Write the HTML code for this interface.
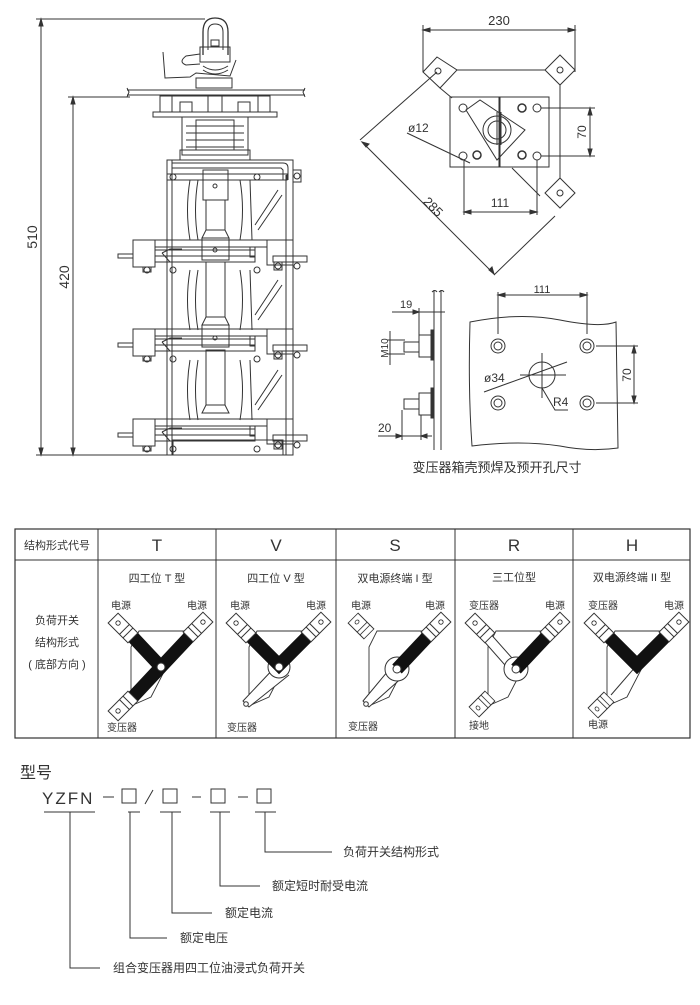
<!DOCTYPE html>
<html><head><meta charset="utf-8">
<style>
html,body{margin:0;padding:0;background:#fff;}
svg{display:block;}
text{font-family:"Liberation Sans","Noto Sans CJK SC",sans-serif;fill:#333;}
</style></head>
<body>
<svg width="700" height="1005" viewBox="0 0 700 1005" xmlns="http://www.w3.org/2000/svg">
<defs>
<g id="term">
  <rect x="-7" y="-14" width="14" height="28" fill="#fff" stroke="#333" stroke-width="1"/>
  <circle cx="0" cy="-7" r="2.2" fill="#fff" stroke="#333" stroke-width="0.9"/>
  <line x1="-7" y1="2" x2="7" y2="2" stroke="#333" stroke-width="1"/>
  <line x1="-7" y1="7" x2="7" y2="7" stroke="#333" stroke-width="1"/>
</g>
<g id="frame">
  <path d="M-22,-36 L24,-36 L-10,30 L-28,38 L-30,36 L-30,-20 Z" fill="none" stroke="#333" stroke-width="0.9"/>
</g>
</defs>
<g stroke="#333" fill="none" stroke-width="1">
<!-- ========== LEFT DEVICE ========== -->
<line x1="41" y1="19" x2="41" y2="455"/>
<line x1="36" y1="19" x2="205" y2="19"/>
<line x1="73" y1="97" x2="73" y2="455"/>
<line x1="68" y1="97" x2="130" y2="97"/>
<line x1="36" y1="455" x2="170" y2="455"/>
<path d="M41,19 l-2,7 h4z M41,455 l-2,-7 h4z M73,97 l-2,7 h4z M73,455 l-2,-7 h4z" fill="#333"/>
<path d="M203,55 L203,32 Q203,18 215,18 Q228,18 228,32 L228,55" stroke-width="1.3"/>
<path d="M208,50 L208,32 Q208,24 215,24 Q223,24 223,32 L223,50"/>
<rect x="200" y="47" width="30" height="15"/>
<rect x="211" y="40" width="8" height="6"/>
<path d="M200,54 L186,56 Q178,62 186,65 L200,64"/>
<path d="M163,52 L165,78 L190,77 L196,73 L230,76 L236,60"/>
<rect x="196" y="78" width="36" height="10"/>
<path d="M203,66 Q215,74 228,66 M203,70 Q215,78 228,70"/>
<line x1="127" y1="90" x2="305" y2="90"/>
<line x1="127" y1="95" x2="305" y2="95"/>
<path d="M127,88 l2,4 -2,5 M305,88 l-2,4 2,5"/>
<rect x="160" y="96" width="110" height="16"/>
<rect x="153" y="112" width="124" height="5"/>
<line x1="172" y1="96" x2="172" y2="112"/><line x1="258" y1="96" x2="258" y2="112"/>
<line x1="208" y1="96" x2="208" y2="112"/><line x1="222" y1="96" x2="222" y2="112"/>
<rect x="180" y="102" width="12" height="10"/><rect x="238" y="102" width="12" height="10"/>
<rect x="182" y="117" width="66" height="38"/>
<rect x="196" y="120" width="38" height="30"/>
<line x1="186" y1="126" x2="244" y2="126"/><line x1="186" y1="133" x2="244" y2="133"/>
<line x1="186" y1="140" x2="244" y2="140"/><line x1="186" y1="147" x2="244" y2="147"/>
<rect x="180" y="150" width="70" height="10"/>
<rect x="167" y="160" width="126" height="295"/>
<line x1="172" y1="160" x2="172" y2="455"/>
<line x1="286" y1="175" x2="286" y2="455"/>
<path d="M172,163 L283,163 Q288,163 288,168 L288,180 M172,168 L281,168 L283,170 L283,180"/>
<rect x="167" y="174" width="120" height="6"/>
<rect x="293" y="170" width="8" height="12"/><circle cx="297" cy="176" r="3"/>
<rect x="203" y="170" width="25" height="30"/><circle cx="215" cy="186" r="2"/>
<rect x="206" y="200" width="19" height="30"/>
<path d="M206,230 L202,238 L229,238 L225,230"/>
<rect x="202" y="238" width="27" height="22"/><circle cx="215" cy="250" r="2"/>
<rect x="206" y="262" width="19" height="55"/>
<path d="M206,317 L202,325 L229,325 L225,317"/>
<rect x="202" y="325" width="27" height="22"/><circle cx="215" cy="338" r="2"/>
<rect x="206" y="350" width="19" height="55"/>
<path d="M206,405 L202,413 L229,413 L225,405"/>
<path d="M190,180 Q185,210 190,240 M198,180 Q193,210 198,240 M240,180 Q245,210 240,240 M250,180 L252,240"/>
<path d="M255,225 L278,190 M258,230 L282,195"/>
<path d="M190,270 Q185,300 190,330 M198,270 Q193,300 198,330 M240,270 Q245,300 240,330 M250,270 L252,330"/>
<path d="M255,315 L278,280 M258,320 L282,285"/>
<path d="M190,360 Q185,390 190,420 M198,360 Q193,390 198,420 M240,360 Q245,390 240,420 M250,360 L252,420"/>
<path d="M255,405 L278,370 M258,410 L282,375"/>
<circle cx="173" cy="177" r="3"/><circle cx="257" cy="177" r="3"/>
<g id="tier">
<rect x="133" y="240" width="22" height="27"/>
<rect x="155" y="240" width="112" height="7"/>
<rect x="267" y="240" width="26" height="25"/>
<rect x="155" y="250" width="100" height="6"/>
<rect x="155" y="256" width="100" height="6"/>
<path d="M162,253 L170,249 L182,249 M162,253 L170,262 L182,262"/>
<rect x="118" y="254" width="15" height="4"/>
<rect x="273" y="256" width="34" height="6"/>
<rect x="250" y="247" width="5" height="10"/>
<rect x="143" y="267" width="8" height="5"/><circle cx="147" cy="270" r="3"/>
<circle cx="173" cy="270" r="3"/><circle cx="257" cy="270" r="3"/>
<rect x="274" y="262" width="8" height="8"/><circle cx="278" cy="266" r="3"/>
<circle cx="297" cy="266" r="3"/>
</g>
<use href="#tier" y="89"/>
<use href="#tier" y="179"/>
<rect x="173" y="440" width="110" height="15"/>
<!-- ========== TOP RIGHT PLAN ========== -->
<line x1="423" y1="30" x2="575" y2="30"/>
<path d="M423,30 l7,-2 v4z M575,30 l-7,-2 v4z" fill="#333"/>
<line x1="423" y1="25" x2="423" y2="72"/><line x1="575" y1="25" x2="575" y2="72"/>
<line x1="457" y1="70" x2="545" y2="70"/>
<line x1="560" y1="85" x2="560" y2="178"/>
<path d="M437,57 L457,70 L440,88 L423,72 Z"/><circle cx="438" cy="71" r="3"/>
<path d="M560,55 L575,70 L560,85 L545,70 Z"/><circle cx="560" cy="70" r="3"/>
<path d="M560,178 L575,193 L560,208 L545,193 Z"/><circle cx="560" cy="193" r="3"/>
<line x1="440" y1="88" x2="452" y2="98"/>
<line x1="512" y1="168" x2="540" y2="196"/>
<rect x="450" y="97" width="49" height="70"/>
<rect x="500" y="97" width="49" height="70"/>
<circle cx="463" cy="108" r="4"/><circle cx="537" cy="108" r="4"/>
<circle cx="463" cy="156" r="4"/><circle cx="537" cy="156" r="4"/>
<circle cx="477" cy="155" r="4" stroke-width="1.5"/><circle cx="522" cy="155" r="4" stroke-width="1.5"/>
<circle cx="522" cy="108" r="4" stroke-width="1.5"/>
<path d="M466,110 L480,100 L525,130 L497,160 Z"/>
<circle cx="497" cy="130" r="14"/><circle cx="497" cy="130" r="9"/>
<path d="M497,112 L497,145 M501,112 L501,145"/>
<line x1="360" y1="140" x2="437" y2="72"/>
<line x1="494" y1="275" x2="555" y2="216"/>
<line x1="362" y1="142" x2="494" y2="274"/>
<path d="M362,142 l7,2 -3,3z M494,274 l-2,-7 -3,3z" fill="#333"/>
<line x1="407" y1="133" x2="470" y2="163"/>
<line x1="464" y1="160" x2="464" y2="215"/><line x1="537" y1="160" x2="537" y2="215"/>
<line x1="464" y1="212" x2="537" y2="212"/>
<path d="M464,212 l7,-2 v4z M537,212 l-7,-2 v4z" fill="#333"/>
<line x1="541" y1="108" x2="595" y2="108"/><line x1="541" y1="156" x2="595" y2="156"/>
<line x1="590" y1="108" x2="590" y2="156"/>
<path d="M590,108 l-2,7 h4z M590,156 l-2,-7 h4z" fill="#333"/>
<!-- ========== SIDE VIEW ========== -->
<path d="M434,290 L434,450 M441,290 L441,450"/>
<path d="M432,292 q3,-3 5,0 M439,292 q3,-3 5,0"/>
<line x1="392" y1="312" x2="445" y2="312"/>
<line x1="419" y1="308" x2="419" y2="340"/>
<path d="M419,312 l-6,-2 v4z" fill="#333"/>
<rect x="419" y="335" width="12" height="22"/><rect x="431" y="330" width="3" height="30" fill="#333"/>
<rect x="404" y="342" width="15" height="10"/>
<line x1="387" y1="340" x2="405" y2="340"/><line x1="387" y1="354" x2="405" y2="354"/>
<line x1="390" y1="331" x2="390" y2="365"/>
<rect x="419" y="393" width="12" height="22"/><rect x="431" y="388" width="3" height="30" fill="#333"/>
<rect x="404" y="399" width="15" height="10"/>
<line x1="402" y1="410" x2="402" y2="440"/><line x1="421" y1="415" x2="421" y2="440"/>
<line x1="378" y1="436" x2="432" y2="436"/>
<path d="M402,436 l-6,-2 v4z M421,436 l6,-2 v4z" fill="#333"/>
<path d="M470,322 Q520,312 560,320 Q600,328 616,322 L618,448 Q590,452 560,446 Q520,440 472,446 Q468,390 470,322 Z"/>
<line x1="498" y1="295" x2="587" y2="295"/>
<line x1="498" y1="292" x2="498" y2="334"/><line x1="587" y1="292" x2="587" y2="334"/>
<path d="M498,295 l7,-2 v4z M587,295 l-7,-2 v4z" fill="#333"/>
<circle cx="498" cy="346" r="7"/><circle cx="498" cy="346" r="4"/>
<circle cx="587" cy="346" r="7"/><circle cx="587" cy="346" r="4"/>
<circle cx="498" cy="403" r="7"/><circle cx="498" cy="403" r="4"/>
<circle cx="587" cy="403" r="7"/><circle cx="587" cy="403" r="4"/>
<circle cx="542" cy="375" r="13"/>
<line x1="520" y1="375" x2="566" y2="375"/><line x1="542" y1="353" x2="542" y2="398"/>
<line x1="484" y1="392" x2="567" y2="362"/>
<path d="M542,388 L555,410 L568,410"/>
<line x1="596" y1="346" x2="638" y2="346"/><line x1="596" y1="403" x2="638" y2="403"/>
<line x1="634" y1="346" x2="634" y2="403"/>
<path d="M634,346 l-2,7 h4z M634,403 l-2,-7 h4z" fill="#333"/>
<!-- ========== TABLE ========== -->
<rect x="15" y="529" width="675" height="209" stroke-width="1.2"/>
<line x1="15" y1="560" x2="690" y2="560"/>
<line x1="98" y1="529" x2="98" y2="738"/><line x1="216" y1="529" x2="216" y2="738"/>
<line x1="336" y1="529" x2="336" y2="738"/><line x1="455" y1="529" x2="455" y2="738"/>
<line x1="573" y1="529" x2="573" y2="738"/>
<!-- ========== MODEL ========== -->
<rect x="122" y="789" width="14" height="14"/><rect x="163" y="789" width="14" height="14"/>
<rect x="211" y="789" width="14" height="14"/><rect x="257" y="789" width="14" height="14"/>
<line x1="103" y1="797" x2="114" y2="797"/><line x1="192" y1="797" x2="201" y2="797"/><line x1="238" y1="797" x2="248" y2="797"/>
<line x1="145" y1="804" x2="153" y2="790"/>
<line x1="44" y1="812" x2="95" y2="812"/><line x1="128" y1="812" x2="140" y2="812"/>
<line x1="160" y1="812" x2="181" y2="812"/><line x1="210" y1="812" x2="230" y2="812"/>
<line x1="255" y1="812" x2="276" y2="812"/>
<path d="M70,812 V968 H100"/>
<path d="M130,812 V938 H167"/>
<path d="M172,812 V913 H212"/>
<path d="M220,812 V886 H260"/>
<path d="M265,812 V852 H332"/>
</g>
<!-- switch diagrams -->
<g stroke="#333" stroke-width="1">
<g transform="translate(161,667)">
 <use href="#frame"/>
 <path d="M-30,-32 L0,0 L30,-32 M0,0 L-30,32" stroke="#111" stroke-width="13" fill="none"/>
 <circle cx="0" cy="0" r="4" fill="#fff"/>
 <use href="#term" transform="translate(-38,-39) rotate(-45)"/>
 <use href="#term" transform="translate(37,-40) rotate(45)"/>
 <use href="#term" transform="translate(-38,39) rotate(-135)"/>
</g>
<g transform="translate(279,667)">
 <use href="#frame"/>
 <path d="M-2,-2 L-36,34 L-30,40 L10,8" fill="#fff"/>
 <circle cx="0" cy="0" r="11" fill="#fff"/>
 <path d="M-30,-32 L0,-2 L30,-32" stroke="#111" stroke-width="13" fill="none"/>
 <circle cx="0" cy="0" r="4" fill="#fff"/>
 <use href="#term" transform="translate(-38,-39) rotate(-45)"/>
 <use href="#term" transform="translate(37,-40) rotate(45)"/>
 <circle cx="-33" cy="37" r="2.3" fill="#fff"/>
</g>
<g transform="translate(399,667)">
 <use href="#frame"/>
 <path d="M-6,-2 L-36,34 L-30,40 L6,8" fill="#fff"/>
 <circle cx="-2" cy="2" r="12" fill="#fff"/>
 <path d="M30,-32 L-2,2" stroke="#111" stroke-width="13" fill="none"/>
 <circle cx="-2" cy="2" r="4" fill="#fff"/>
 <use href="#term" transform="translate(-38,-41) rotate(-45) scale(1,0.8)"/>
 <use href="#term" transform="translate(37,-40) rotate(45)"/>
 <circle cx="-33" cy="37" r="2.3" fill="#fff"/>
</g>
<g transform="translate(518,667)">
 <use href="#frame"/>
 <path d="M-30,-36 L2,0 L-6,6 L-36,-28 Z" fill="#fff"/>
 <circle cx="-2" cy="2" r="12" fill="#fff"/>
 <path d="M30,-32 L-2,2" stroke="#111" stroke-width="13" fill="none"/>
 <circle cx="-2" cy="2" r="4" fill="#fff"/>
 <use href="#term" transform="translate(-38,-39) rotate(-45)"/>
 <use href="#term" transform="translate(37,-40) rotate(45)"/>
 <use href="#term" transform="translate(-36,37) rotate(-135) scale(1,0.8)"/>
</g>
<g transform="translate(637,667)">
 <use href="#frame"/>
 <line x1="0" y1="-2" x2="-26" y2="28"/>
 <path d="M-30,-32 L0,-2 L30,-32" stroke="#111" stroke-width="13" fill="none"/>
 <use href="#term" transform="translate(-38,-39) rotate(-45)"/>
 <use href="#term" transform="translate(37,-40) rotate(45)"/>
 <use href="#term" transform="translate(-36,38) rotate(-135) scale(1,0.8)"/>
</g>
</g>
<!-- ========== TEXT ========== -->
<text x="37" y="237" font-size="14" transform="rotate(-90 37 237)" text-anchor="middle">510</text>
<text x="69" y="277" font-size="14" transform="rotate(-90 69 277)" text-anchor="middle">420</text>
<text x="499" y="25" font-size="13" text-anchor="middle">230</text>
<text x="408" y="132" font-size="12">ø12</text>
<text x="500" y="207" font-size="12" text-anchor="middle">111</text>
<text x="586" y="132" font-size="12" transform="rotate(-90 586 132)" text-anchor="middle">70</text>
<text x="430" y="210" font-size="13" transform="rotate(45 430 210)" text-anchor="middle">285</text>
<text x="400" y="308" font-size="11">19</text>
<text x="388" y="348" font-size="10" transform="rotate(-90 388 348)" text-anchor="middle">M10</text>
<text x="378" y="432" font-size="12">20</text>
<text x="542" y="293" font-size="11" text-anchor="middle">111</text>
<text x="484" y="382" font-size="12">ø34</text>
<text x="553" y="406" font-size="12">R4</text>
<text x="631" y="375" font-size="12" transform="rotate(-90 631 375)" text-anchor="middle">70</text>
<text x="497" y="472" font-size="13" text-anchor="middle">变压器箱壳预焊及预开孔尺寸</text>

<text x="57" y="549" font-size="11" text-anchor="middle">结构形式代号</text>
<text x="157" y="551" font-size="17" text-anchor="middle" fill="#555">T</text>
<text x="276" y="551" font-size="17" text-anchor="middle" fill="#555">V</text>
<text x="395" y="551" font-size="17" text-anchor="middle" fill="#555">S</text>
<text x="514" y="551" font-size="17" text-anchor="middle" fill="#555">R</text>
<text x="632" y="551" font-size="17" text-anchor="middle" fill="#555">H</text>
<text x="57" y="624" font-size="11" text-anchor="middle">负荷开关</text>
<text x="57" y="646" font-size="11" text-anchor="middle">结构形式</text>
<text x="57" y="668" font-size="11" text-anchor="middle">( 底部方向 )</text>
<text x="157" y="582" font-size="11" text-anchor="middle">四工位 T 型</text>
<text x="276" y="582" font-size="11" text-anchor="middle">四工位 V 型</text>
<text x="395" y="582" font-size="11" text-anchor="middle">双电源终端 I 型</text>
<text x="514" y="581" font-size="11" text-anchor="middle">三工位型</text>
<text x="632" y="581" font-size="11" text-anchor="middle">双电源终端 II 型</text>
<g font-size="10">
<text x="111" y="609">电源</text><text x="187" y="609">电源</text><text x="107" y="731">变压器</text>
<text x="230" y="609">电源</text><text x="306" y="609">电源</text><text x="227" y="731">变压器</text>
<text x="351" y="609">电源</text><text x="425" y="609">电源</text><text x="348" y="730">变压器</text>
<text x="469" y="609">变压器</text><text x="545" y="609">电源</text><text x="469" y="729">接地</text>
<text x="588" y="609">变压器</text><text x="664" y="609">电源</text><text x="588" y="728">电源</text>
</g>
<text x="20" y="778" font-size="16">型号</text>
<text x="42" y="804" font-size="17" letter-spacing="2" fill="#444">YZFN</text>
<g font-size="12">
<text x="343" y="856">负荷开关结构形式</text>
<text x="272" y="890">额定短时耐受电流</text>
<text x="225" y="917">额定电流</text>
<text x="180" y="942">额定电压</text>
<text x="113" y="972">组合变压器用四工位油浸式负荷开关</text>
</g>
</svg>
</body></html>
